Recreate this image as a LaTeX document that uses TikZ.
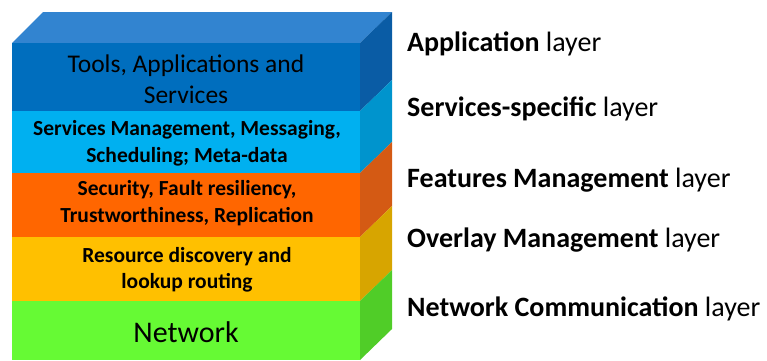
\documentclass[tikz,border=0pt]{standalone}
\usepackage{fontspec}
\setmainfont{Carlito}
\definecolor{topface}{RGB}{50,132,208}
\definecolor{blueF}{RGB}{0,110,190}
\definecolor{blueS}{RGB}{10,92,165}
\definecolor{lblueF}{RGB}{0,176,240}
\definecolor{lblueS}{RGB}{0,148,205}
\definecolor{orangeF}{RGB}{255,102,0}
\definecolor{orangeS}{RGB}{212,90,20}
\definecolor{yellowF}{RGB}{255,192,0}
\definecolor{yellowS}{RGB}{215,165,0}
\definecolor{greenF}{RGB}{102,250,52}
\definecolor{greenS}{RGB}{80,205,40}
\tikzset{
  layertext/.style={anchor=base, font=\fontsize{21.5}{26}\selectfont\bfseries, text=black, inner sep=0pt},
  bigtext/.style={anchor=base, font=\fontsize{25.5}{30}\selectfont, text=black, inner sep=0pt},
  rlabel/.style={anchor=base west, font=\fontsize{28}{30}\selectfont, text=black, inner sep=0pt},
}
\newcommand{\mylayer}[4]{%
  \fill[#3] (12,#1) rectangle (360,#2);
  \fill[#4] (360,#1) -- (392,#1-31) -- (392,#2-31) -- (360,#2) -- cycle;
}
\begin{document}
\begin{tikzpicture}[x=1pt,y=-1pt]
\useasboundingbox (0,0) rectangle (767,360);
% top face
\fill[topface] (12,43) -- (43,12) -- (392,12) -- (360,43) -- cycle;
% layers: front and side
\mylayer{43}{111}{blueF}{blueS}
\mylayer{111}{173}{lblueF}{lblueS}
\mylayer{173}{237}{orangeF}{orangeS}
\mylayer{237}{301}{yellowF}{yellowS}
\mylayer{301}{360}{greenF}{greenS}
% texts
\node[bigtext] (t1a) at (186,72) {Tools, Applications and};
\node[bigtext] (t1b) at (186,103) {Services};
\node[layertext] (t2a) at (187,135) {Services Management, Messaging,};
\node[layertext] (t2b) at (187,162) {Scheduling; Meta-data};
\node[layertext] (t3a) at (187,195) {Security, Fault resiliency,};
\node[layertext] (t3b) at (187,222) {Trustworthiness, Replication};
\node[layertext] (t4a) at (187,262) {Resource discovery and};
\node[layertext] (t4b) at (187,288) {lookup routing};
\node[anchor=base, font=\fontsize{30}{30}\selectfont, inner sep=0pt] (t5) at (186,342) {Network};
% right labels
\node[rlabel] (l1) at (407,51) {\textbf{Application} layer};
\node[rlabel] (l2) at (407,116) {\textbf{Services-specific} layer};
\node[rlabel] (l3) at (407,187) {\textbf{Features Management} layer};
\node[rlabel] (l4) at (407,247) {\textbf{Overlay Management} layer};
\node[rlabel] (l5) at (407,316) {\textbf{Network Communication} layer};
\end{tikzpicture}
\end{document}
